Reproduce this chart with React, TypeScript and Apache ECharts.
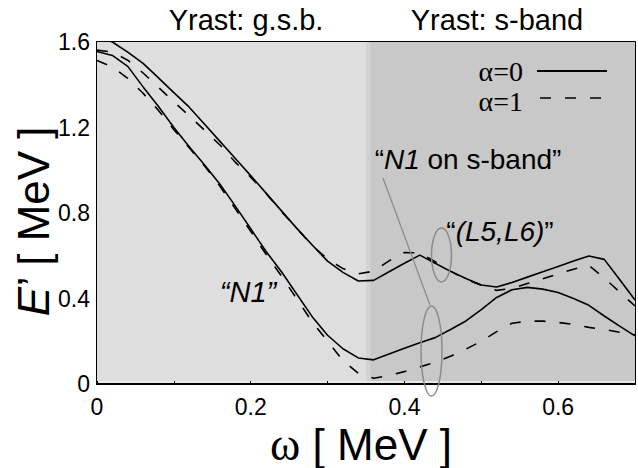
import React, { useEffect, useRef } from "react";
import * as echarts from "echarts";

// rotational frequency grid (MeV)
const omega = [
  0, 0.02, 0.04, 0.06, 0.08, 0.1, 0.12, 0.14, 0.16, 0.18, 0.2, 0.22, 0.24, 0.26,
  0.28, 0.3, 0.32, 0.34, 0.36, 0.38, 0.4, 0.42, 0.44, 0.46, 0.48, 0.5, 0.52,
  0.54, 0.56, 0.58, 0.6, 0.62, 0.64, 0.66, 0.68, 0.7,
];

// upper pair: g.s.b. -> (L5,L6)
const upperA0 = [
  1.625, 1.6, 1.553, 1.5, 1.432, 1.363, 1.295, 1.215, 1.135, 1.055, 0.975,
  0.893, 0.81, 0.728, 0.65, 0.575, 0.522, 0.482, 0.485, 0.525, 0.565, 0.603,
  0.565, 0.527, 0.494, 0.463, 0.454, 0.475, 0.5, 0.525, 0.55, 0.575, 0.599,
  0.583, 0.489, 0.393,
];
const upperA1 = [
  1.562, 1.553, 1.515, 1.455, 1.388, 1.32, 1.255, 1.187, 1.118, 1.037, 0.968,
  0.891, 0.807, 0.728, 0.648, 0.585, 0.54, 0.515, 0.528, 0.576, 0.615, 0.613,
  0.572, 0.528, 0.49, 0.462, 0.438, 0.447, 0.47, 0.492, 0.515, 0.537, 0.555,
  0.496, 0.43, 0.365,
];
// lower pair: "N1"
const lowerA0 = [
  1.556, 1.537, 1.486, 1.39, 1.298, 1.2, 1.11, 1.025, 0.935, 0.832, 0.726,
  0.62, 0.525, 0.42, 0.315, 0.228, 0.165, 0.122, 0.113, 0.14, 0.167, 0.193,
  0.217, 0.255, 0.295, 0.348, 0.405, 0.441, 0.452, 0.444, 0.428, 0.4, 0.368,
  0.318, 0.271, 0.225,
];
const lowerA1 = [
  1.513, 1.483, 1.43, 1.36, 1.28, 1.19, 1.105, 1.02, 0.925, 0.82, 0.714,
  0.607, 0.505, 0.398, 0.29, 0.2, 0.11, 0.05, 0.027, 0.04, 0.058, 0.08, 0.102,
  0.13, 0.163, 0.2, 0.245, 0.284, 0.294, 0.294, 0.288, 0.279, 0.265, 0.255,
  0.242, 0.23,
];

const bandSplit = 0.35;
const bandTitles = ["Yrast: g.s.b.", "Yrast: s-band"];
const legendLabels = ["α=0", "α=1"];
const xLabelValues = [0, 0.2, 0.4, 0.6];
const yLabelValues = [0, 0.4, 0.8, 1.2, 1.6];

const SANS = "'Liberation Sans', Arial, Helvetica, sans-serif";
const SERIF = "'Liberation Serif', 'Times New Roman', serif";
const DASH = [11, 14];

function pairs(ys: number[]) {
  return omega.map((w, i) => [w, ys[i]]);
}

function fmt(v: number) {
  return v === 0 ? "0" : v.toFixed(1);
}

export default function App() {
  const ref = useRef<HTMLDivElement>(null);

  useEffect(() => {
    if (!ref.current) return;
    const chart = echarts.init(ref.current, null, { renderer: "svg" });

    const lineSeries = (name: string, ys: number[], dashed: boolean) => ({
      type: "line",
      name,
      data: pairs(ys),
      showSymbol: false,
      symbol: "none",
      z: 3,
      clip: true,
      lineStyle: { color: "#000", width: 1.6, type: dashed ? DASH : "solid" },
    });

    const near = (v: number, arr: number[]) =>
      arr.some((a) => Math.abs(a - v) < 1e-6);

    chart.setOption({
      animation: false,
      grid: {
        left: 97,
        right: 1,
        top: 42,
        bottom: 84,
        show: true,
        backgroundColor: "#e8e8e8",
        borderWidth: 0,
      },
      xAxis: [
        {
          type: "value",
          min: 0,
          max: 0.7,
          interval: 0.1,
          position: "bottom",
          axisLine: { show: true, onZero: false, lineStyle: { color: "#000", width: 2 } },
          axisTick: { show: true, inside: true, length: 5, lineStyle: { color: "#000", width: 1 } },
          splitLine: { show: false },
          axisLabel: {
            margin: 11,
            color: "#000",
            fontFamily: SANS,
            fontSize: 23,
            formatter: (v: number) => (near(v, xLabelValues) ? fmt(v) : ""),
          },
        },
        {
          type: "value",
          min: 0,
          max: 0.7,
          interval: 0.1,
          position: "top",
          axisLine: { show: true, onZero: false, lineStyle: { color: "#000", width: 2 } },
          axisTick: { show: true, inside: true, length: 5, lineStyle: { color: "#000", width: 1 } },
          splitLine: { show: false },
          axisLabel: { show: false },
        },
      ],
      yAxis: [
        {
          type: "value",
          min: 0,
          max: 1.6,
          interval: 0.2,
          position: "left",
          axisLine: { show: true, onZero: false, lineStyle: { color: "#000", width: 2 } },
          axisTick: { show: true, inside: true, length: 6, lineStyle: { color: "#000", width: 1 } },
          splitLine: { show: false },
          axisLabel: {
            margin: 7,
            color: "#000",
            fontFamily: SANS,
            fontSize: 23,
            formatter: (v: number) => (near(v, yLabelValues) ? fmt(v) : ""),
          },
        },
        {
          type: "value",
          min: 0,
          max: 1.6,
          interval: 0.2,
          position: "right",
          axisLine: { show: true, onZero: false, lineStyle: { color: "#000", width: 1 } },
          axisTick: { show: true, inside: true, length: 5, lineStyle: { color: "#000", width: 1 } },
          splitLine: { show: false },
          axisLabel: { show: false },
        },
      ],
      series: [
        {
          type: "line",
          name: "bands",
          data: [],
          z: 1,
          silent: true,
          markArea: {
            silent: true,
            data: [
              [
                { xAxis: 0, yAxis: 0.014, itemStyle: { color: "#dedede" } },
                { xAxis: bandSplit, yAxis: 1.6 },
              ],
              [
                { xAxis: bandSplit, yAxis: 0.014, itemStyle: { color: "#c8c8c8" } },
                { xAxis: 0.7, yAxis: 1.6 },
              ],
              [
                { xAxis: bandSplit, yAxis: 0.014, itemStyle: { color: "#d2d2d2" } },
                { xAxis: bandSplit + 0.006, yAxis: 1.6 },
              ],
            ],
          },
        },
        lineSeries("(L5,L6) α=0", upperA0, false),
        lineSeries("(L5,L6) α=1", upperA1, true),
        lineSeries("N1 α=0", lowerA0, false),
        lineSeries("N1 α=1", lowerA1, true),
      ],
      graphic: [
        // band titles
        {
          type: "text",
          x: 246,
          y: 20,
          z: 10,
          style: { text: bandTitles[0], font: `29px ${SANS}`, fill: "#000", align: "center", verticalAlign: "middle" },
        },
        {
          type: "text",
          x: 497,
          y: 20,
          z: 10,
          style: { text: bandTitles[1], font: `29px ${SANS}`, fill: "#000", align: "center", verticalAlign: "middle" },
        },
        // axis titles
        {
          type: "text",
          x: 361,
          y: 444,
          z: 10,
          style: {
            text: "{w|ω} [ MeV ]",
            font: `44px ${SANS}`,
            fill: "#000",
            align: "center",
            verticalAlign: "middle",
            rich: { w: { fontFamily: SERIF, fontSize: 46, fill: "#000" } },
          },
        },
        {
          type: "text",
          x: 33,
          y: 221,
          z: 10,
          rotation: Math.PI / 2,
          style: {
            text: "{e|E}’ [ MeV ]",
            font: `44px ${SANS}`,
            fill: "#000",
            align: "center",
            verticalAlign: "middle",
            rich: { e: { fontFamily: SANS, fontStyle: "italic", fontSize: 44, fill: "#000" } },
          },
        },
        // legend
        {
          type: "text",
          x: 523,
          y: 71,
          z: 10,
          style: { text: legendLabels[0], font: `28px ${SERIF}`, fill: "#000", align: "right", verticalAlign: "middle" },
        },
        {
          type: "line",
          z: 10,
          shape: { x1: 537, y1: 71, x2: 607, y2: 71 },
          style: { stroke: "#000", lineWidth: 2 },
        },
        {
          type: "text",
          x: 523,
          y: 101,
          z: 10,
          style: { text: legendLabels[1], font: `28px ${SERIF}`, fill: "#000", align: "right", verticalAlign: "middle" },
        },
        {
          type: "line",
          z: 10,
          shape: { x1: 540, y1: 98, x2: 605, y2: 98 },
          style: { stroke: "#000", lineWidth: 1.6, lineDash: DASH },
        },
        // annotations
        {
          type: "text",
          x: 468,
          y: 159,
          z: 10,
          style: {
            text: "“{i|N1} on s-band”",
            font: `28px ${SANS}`,
            fill: "#000",
            align: "center",
            verticalAlign: "middle",
            rich: { i: { fontFamily: SANS, fontStyle: "italic", fontSize: 28, fill: "#000" } },
          },
        },
        {
          type: "text",
          x: 500,
          y: 231,
          z: 10,
          style: {
            text: "“{i|(L5,L6)}”",
            font: `28px ${SANS}`,
            fill: "#000",
            align: "center",
            verticalAlign: "middle",
            rich: { i: { fontFamily: SANS, fontStyle: "italic", fontSize: 28, fill: "#000" } },
          },
        },
        {
          type: "text",
          x: 248,
          y: 292,
          z: 10,
          style: {
            text: "“N1”",
            font: `italic 29px ${SANS}`,
            fill: "#000",
            align: "center",
            verticalAlign: "middle",
          },
        },
        {
          type: "ellipse",
          z: 10,
          shape: { cx: 441.5, cy: 255, rx: 10, ry: 27 },
          style: { fill: "none", stroke: "#8c8c8c", lineWidth: 1.5 },
        },
        {
          type: "ellipse",
          z: 10,
          shape: { cx: 431.5, cy: 351, rx: 10.5, ry: 45 },
          style: { fill: "none", stroke: "#8c8c8c", lineWidth: 1.5 },
        },
        {
          type: "line",
          z: 10,
          shape: { x1: 383, y1: 178, x2: 430, y2: 305 },
          style: { stroke: "#8c8c8c", lineWidth: 1.3 },
        },
      ],
    });

    return () => chart.dispose();
  }, []);

  return (
    <div
      ref={ref}
      style={{ position: "absolute", left: 0, top: 0, width: 638, height: 468, background: "#fff" }}
    />
  );
}
